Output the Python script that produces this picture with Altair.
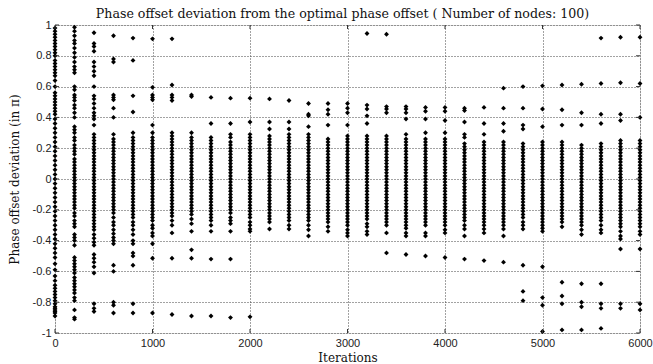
import altair as alt
import pandas as pd

iterations = [0, 200, 400, 600, 800, 1000, 1200, 1400, 1600, 1800, 2000, 2200, 2400, 2600, 2800,
              3000, 3200, 3400, 3600, 3800, 4000, 4200, 4400, 4600, 4800, 5000, 5200, 5400, 5600, 5800, 6000]

c0 = [0.98, 0.96, 0.94, 0.92, 0.90, 0.88, 0.86, 0.84, 0.82, 0.80, 0.77, 0.75, 0.73, 0.71, 0.69, 0.67, 0.64,
      0.60, 0.56, 0.54, 0.52, 0.50, 0.48, 0.46, 0.44, 0.42, 0.39, 0.36, 0.33, 0.30, 0.27, 0.24, 0.21, 0.18,
      0.15, 0.12, 0.09, 0.06, 0.03, 0.00, -0.03, -0.06, -0.09, -0.12, -0.15, -0.18, -0.21, -0.24, -0.27,
      -0.30, -0.33, -0.36, -0.39, -0.42, -0.45, -0.48, -0.51, -0.55, -0.59, -0.63, -0.66, -0.69, -0.71,
      -0.73, -0.75, -0.77, -0.79, -0.81, -0.83, -0.84, -0.85, -0.86, -0.87, -0.89]
c200 = [0.985, 0.96, 0.93, 0.90, 0.88, 0.85, 0.82, 0.79, 0.76, 0.73, 0.71, 0.69, 0.60, 0.58, 0.545, 0.53,
        0.51, 0.48, 0.46, 0.43, 0.40, 0.34, 0.32, 0.30, 0.27, 0.25, 0.22, 0.20, 0.18, 0.16, 0.13, 0.11, 0.09,
        0.07, 0.05, 0.03, 0.01, -0.01, -0.03, -0.05, -0.07, -0.09, -0.11, -0.13, -0.15, -0.17, -0.19, -0.22,
        -0.24, -0.27, -0.29, -0.31, -0.36, -0.38, -0.40, -0.43, -0.51, -0.53, -0.55, -0.57, -0.59, -0.61,
        -0.64, -0.66, -0.68, -0.70, -0.72, -0.74, -0.77, -0.79, -0.85, -0.90, -0.91]
c400 = [0.95, 0.88, 0.86, 0.83, 0.76, 0.73, 0.70, 0.67, 0.60, 0.54, 0.52, 0.49, 0.46, 0.43, 0.41, 0.39, 0.35,
        0.29, 0.27, 0.25, 0.23, 0.21, 0.19, 0.17, 0.15, 0.13, 0.11, 0.09, 0.07, 0.05, 0.03, 0.01, -0.01,
        -0.03, -0.05, -0.07, -0.09, -0.11, -0.13, -0.15, -0.17, -0.19, -0.21, -0.23, -0.25, -0.27, -0.29,
        -0.31, -0.33, -0.36, -0.385, -0.41, -0.43, -0.49, -0.515, -0.54, -0.57, -0.61, -0.81, -0.84, -0.86]
c600 = [0.93, 0.78, 0.76, 0.545, 0.53, 0.515, 0.46, 0.40, 0.29, 0.26, 0.24, 0.22, 0.20, 0.18, 0.16, 0.14,
        0.12, 0.10, 0.08, 0.06, 0.04, 0.02, 0.00, -0.02, -0.04, -0.06, -0.08, -0.10, -0.12, -0.14, -0.16,
        -0.18, -0.20, -0.22, -0.25, -0.28, -0.30, -0.33, -0.355, -0.38, -0.40, -0.42, -0.56, -0.60, -0.80,
        -0.82, -0.87]
c800 = [0.915, 0.77, 0.54, 0.435, 0.30, 0.27, 0.25, 0.23, 0.21, 0.19, 0.17, 0.15, 0.13, 0.11, 0.09, 0.07,
        0.05, 0.03, 0.01, -0.01, -0.03, -0.05, -0.07, -0.09, -0.11, -0.13, -0.15, -0.17, -0.19, -0.21, -0.23,
        -0.25, -0.28, -0.30, -0.33, -0.36, -0.40, -0.42, -0.48, -0.50, -0.56, -0.81, -0.87]
c1000 = [0.91, 0.595, 0.545, 0.53, 0.515, 0.35, 0.30, 0.27, 0.25, 0.23, 0.21, 0.19, 0.17, 0.15, 0.13, 0.11,
         0.09, 0.07, 0.05, 0.03, 0.01, -0.01, -0.03, -0.05, -0.07, -0.09, -0.11, -0.13, -0.15, -0.17, -0.19,
         -0.21, -0.23, -0.25, -0.27, -0.30, -0.32, -0.35, -0.37, -0.42, -0.515, -0.87]
c1200 = [0.91, 0.61, 0.545, 0.53, 0.51, 0.30, 0.28, 0.26, 0.24, 0.22, 0.20, 0.18, 0.16, 0.14, 0.12, 0.10,
         0.08, 0.06, 0.04, 0.02, 0.00, -0.02, -0.04, -0.06, -0.08, -0.10, -0.12, -0.14, -0.16, -0.18, -0.20,
         -0.22, -0.24, -0.27, -0.30, -0.35, -0.515, -0.88]
c1400 = [0.545, 0.535, 0.30, 0.27, 0.25, 0.23, 0.21, 0.19, 0.17, 0.15, 0.13, 0.11, 0.09, 0.07, 0.05, 0.03,
         0.01, -0.01, -0.03, -0.05, -0.07, -0.09, -0.11, -0.13, -0.15, -0.17, -0.19, -0.21, -0.23, -0.26,
         -0.29, -0.34, -0.46, -0.515, -0.89]
c1600 = [0.53, 0.36, 0.27, 0.25, 0.23, 0.21, 0.19, 0.17, 0.15, 0.13, 0.11, 0.09, 0.07, 0.05, 0.03, 0.01,
         -0.01, -0.03, -0.05, -0.07, -0.09, -0.11, -0.13, -0.15, -0.17, -0.19, -0.21, -0.23, -0.25, -0.27,
         -0.30, -0.34, -0.52, -0.89]
c1800 = [0.525, 0.36, 0.29, 0.27, 0.24, 0.22, 0.20, 0.18, 0.16, 0.14, 0.12, 0.10, 0.08, 0.06, 0.04, 0.02,
         0.00, -0.02, -0.04, -0.06, -0.08, -0.10, -0.12, -0.14, -0.16, -0.18, -0.20, -0.22, -0.25, -0.27,
         -0.29, -0.34, -0.52, -0.90]
c2000 = [0.525, 0.37, 0.29, 0.27, 0.25, 0.23, 0.21, 0.19, 0.17, 0.15, 0.13, 0.11, 0.09, 0.07, 0.05, 0.03,
         0.01, -0.01, -0.03, -0.05, -0.07, -0.09, -0.11, -0.13, -0.15, -0.17, -0.19, -0.21, -0.23, -0.25,
         -0.28, -0.30, -0.325, -0.34, -0.895]
c2200 = [0.52, 0.37, 0.325, 0.28, 0.26, 0.24, 0.22, 0.20, 0.18, 0.16, 0.14, 0.12, 0.10, 0.08, 0.06, 0.04,
         0.02, 0.00, -0.02, -0.04, -0.06, -0.08, -0.10, -0.12, -0.14, -0.16, -0.18, -0.20, -0.22, -0.24,
         -0.26, -0.28, -0.325]
c2400 = [0.51, 0.37, 0.325, 0.29, 0.27, 0.25, 0.23, 0.21, 0.19, 0.17, 0.15, 0.13, 0.11, 0.09, 0.07, 0.05,
         0.03, 0.01, -0.01, -0.03, -0.05, -0.07, -0.09, -0.11, -0.13, -0.15, -0.17, -0.19, -0.21, -0.23,
         -0.25, -0.27, -0.30, -0.325]
c2600 = [0.49, 0.42, 0.41, 0.34, 0.29, 0.27, 0.25, 0.23, 0.21, 0.19, 0.17, 0.15, 0.13, 0.11, 0.09, 0.07,
         0.05, 0.03, 0.01, -0.01, -0.03, -0.05, -0.07, -0.09, -0.11, -0.13, -0.15, -0.17, -0.19, -0.21,
         -0.23, -0.25, -0.27, -0.30, -0.33, -0.37]
c2800 = [0.49, 0.45, 0.42, 0.35, 0.26, 0.24, 0.22, 0.20, 0.18, 0.16, 0.14, 0.12, 0.10, 0.08, 0.06, 0.04,
         0.02, 0.00, -0.02, -0.04, -0.06, -0.08, -0.10, -0.12, -0.14, -0.16, -0.18, -0.20, -0.22, -0.24,
         -0.26, -0.28, -0.31, -0.34]
c3000 = [0.49, 0.46, 0.43, 0.35, 0.28, 0.26, 0.24, 0.22, 0.20, 0.18, 0.16, 0.14, 0.12, 0.10, 0.08, 0.06,
         0.04, 0.02, 0.00, -0.02, -0.04, -0.06, -0.08, -0.10, -0.12, -0.14, -0.16, -0.18, -0.20, -0.22,
         -0.24, -0.26, -0.28, -0.30, -0.33, -0.35, -0.37]
c3200 = [0.945, 0.48, 0.455, 0.41, 0.36, 0.28, 0.26, 0.24, 0.22, 0.20, 0.18, 0.16, 0.14, 0.12, 0.10, 0.08,
         0.06, 0.04, 0.02, 0.00, -0.02, -0.04, -0.06, -0.08, -0.10, -0.12, -0.14, -0.16, -0.18, -0.20,
         -0.22, -0.24, -0.26, -0.29, -0.31, -0.34, -0.36]
c3400 = [0.94, 0.47, 0.455, 0.43, 0.28, 0.26, 0.24, 0.22, 0.20, 0.18, 0.16, 0.14, 0.12, 0.10, 0.08, 0.06,
         0.04, 0.02, 0.00, -0.02, -0.04, -0.06, -0.08, -0.10, -0.12, -0.14, -0.16, -0.18, -0.20, -0.22,
         -0.24, -0.26, -0.28, -0.30, -0.35, -0.48]
c3600 = [0.47, 0.455, 0.43, 0.39, 0.29, 0.26, 0.24, 0.22, 0.20, 0.18, 0.16, 0.14, 0.12, 0.10, 0.08, 0.06,
         0.04, 0.02, 0.00, -0.02, -0.04, -0.06, -0.08, -0.10, -0.12, -0.14, -0.16, -0.18, -0.20, -0.22,
         -0.24, -0.26, -0.28, -0.30, -0.32, -0.35, -0.37, -0.49]
c3800 = [0.465, 0.44, 0.39, 0.30, 0.26, 0.24, 0.22, 0.20, 0.18, 0.16, 0.14, 0.12, 0.10, 0.08, 0.06, 0.04,
         0.02, 0.00, -0.02, -0.04, -0.06, -0.08, -0.10, -0.12, -0.14, -0.16, -0.18, -0.20, -0.22, -0.24,
         -0.26, -0.28, -0.30, -0.35, -0.37, -0.50]
c4000 = [0.465, 0.44, 0.38, 0.30, 0.26, 0.24, 0.22, 0.20, 0.18, 0.16, 0.14, 0.12, 0.10, 0.08, 0.06, 0.04,
         0.02, 0.00, -0.02, -0.04, -0.06, -0.08, -0.10, -0.12, -0.14, -0.16, -0.18, -0.20, -0.22, -0.24,
         -0.26, -0.28, -0.30, -0.33, -0.35, -0.51]
c4200 = [0.46, 0.445, 0.37, 0.29, 0.27, 0.23, 0.21, 0.19, 0.17, 0.15, 0.13, 0.11, 0.09, 0.07, 0.05, 0.03,
         0.01, -0.01, -0.03, -0.05, -0.07, -0.09, -0.11, -0.13, -0.15, -0.17, -0.19, -0.21, -0.23, -0.25,
         -0.27, -0.30, -0.325, -0.37, -0.52]
c4400 = [0.465, 0.36, 0.29, 0.24, 0.22, 0.20, 0.18, 0.16, 0.14, 0.12, 0.10, 0.08, 0.06, 0.04, 0.02, 0.00,
         -0.02, -0.04, -0.06, -0.08, -0.10, -0.12, -0.14, -0.16, -0.18, -0.20, -0.22, -0.24, -0.26, -0.28,
         -0.30, -0.325, -0.35, -0.53]
c4600 = [0.59, 0.46, 0.36, 0.31, 0.24, 0.22, 0.20, 0.18, 0.16, 0.14, 0.12, 0.10, 0.08, 0.06, 0.04, 0.02,
         0.00, -0.02, -0.04, -0.06, -0.08, -0.10, -0.12, -0.14, -0.16, -0.18, -0.20, -0.22, -0.24, -0.26,
         -0.28, -0.30, -0.325, -0.37, -0.54]
c4800 = [0.60, 0.46, 0.35, 0.325, 0.23, 0.21, 0.19, 0.17, 0.15, 0.13, 0.11, 0.09, 0.07, 0.05, 0.03, 0.01,
         -0.01, -0.03, -0.05, -0.07, -0.09, -0.11, -0.13, -0.15, -0.17, -0.19, -0.21, -0.23, -0.25, -0.28,
         -0.30, -0.325, -0.56, -0.73, -0.79]
c5000 = [0.605, 0.455, 0.34, 0.24, 0.22, 0.20, 0.18, 0.16, 0.14, 0.12, 0.10, 0.08, 0.06, 0.04, 0.02, 0.00,
         -0.02, -0.04, -0.06, -0.08, -0.10, -0.12, -0.14, -0.16, -0.18, -0.20, -0.22, -0.24, -0.26, -0.28,
         -0.30, -0.32, -0.34, -0.57, -0.77, -0.82, -0.99]
c5200 = [0.61, 0.45, 0.35, 0.24, 0.22, 0.20, 0.18, 0.16, 0.14, 0.12, 0.10, 0.08, 0.06, 0.04, 0.02, 0.00,
         -0.02, -0.04, -0.06, -0.08, -0.10, -0.12, -0.14, -0.16, -0.18, -0.20, -0.22, -0.24, -0.26, -0.28,
         -0.31, -0.67, -0.76, -0.81, -0.98]
c5400 = [0.615, 0.43, 0.35, 0.22, 0.20, 0.18, 0.16, 0.14, 0.12, 0.10, 0.08, 0.06, 0.04, 0.02, 0.00, -0.02,
         -0.04, -0.06, -0.08, -0.10, -0.12, -0.14, -0.16, -0.18, -0.20, -0.22, -0.24, -0.26, -0.28, -0.30,
         -0.33, -0.36, -0.68, -0.80, -0.83, -0.98]
c5600 = [0.915, 0.62, 0.42, 0.36, 0.23, 0.21, 0.19, 0.17, 0.15, 0.13, 0.11, 0.09, 0.07, 0.05, 0.03, 0.01,
         -0.01, -0.03, -0.05, -0.07, -0.09, -0.11, -0.13, -0.15, -0.17, -0.19, -0.21, -0.23, -0.25, -0.27,
         -0.30, -0.33, -0.35, -0.68, -0.81, -0.84, -0.97]
c5800 = [0.92, 0.625, 0.42, 0.38, 0.25, 0.23, 0.21, 0.19, 0.17, 0.15, 0.13, 0.11, 0.09, 0.07, 0.05, 0.03,
         0.01, -0.01, -0.03, -0.05, -0.07, -0.09, -0.11, -0.13, -0.15, -0.17, -0.19, -0.21, -0.23, -0.25,
         -0.27, -0.29, -0.31, -0.34, -0.37, -0.39, -0.455, -0.81, -0.84]
c6000 = [0.92, 0.62, 0.40, 0.25, 0.23, 0.21, 0.19, 0.17, 0.15, 0.13, 0.11, 0.09, 0.07, 0.05, 0.03, 0.01,
         -0.01, -0.03, -0.05, -0.07, -0.09, -0.11, -0.13, -0.15, -0.17, -0.19, -0.21, -0.23, -0.25, -0.27,
         -0.29, -0.31, -0.34, -0.36, -0.455, -0.81, -0.85]

columns = [c0, c200, c400, c600, c800, c1000, c1200, c1400, c1600, c1800, c2000, c2200, c2400, c2600,
           c2800, c3000, c3200, c3400, c3600, c3800, c4000, c4200, c4400, c4600, c4800, c5000, c5200,
           c5400, c5600, c5800, c6000]

x_ticks = [0, 1000, 2000, 3000, 4000, 5000, 6000]
y_ticks = [-1, -0.8, -0.6, -0.4, -0.2, 0, 0.2, 0.4, 0.6, 0.8, 1]

rows = []
for it, vals in zip(iterations, columns):
    for v in vals:
        rows.append({"iteration": it, "deviation": v})
df = pd.DataFrame(rows)

W, H = 585, 308
TICK = 4
xs = alt.Scale(domain=[0, 6000], nice=False, zero=False)
ys = alt.Scale(domain=[-1, 1], nice=False, zero=False)

label_font = "Liberation Sans"
serif = "DejaVu Serif"
X_TITLE = "Iterations"
Y_TITLE = "Phase offset deviation (in \u03c0)"

x_axis = alt.Axis(
    values=x_ticks, format="d", title=X_TITLE, grid=True, gridDash=[1, 2],
    gridColor="#444", gridOpacity=1, ticks=False, domain=False, labelFlush=False,
    labelFont=label_font, labelFontSize=11, labelColor="#222", labelPadding=4,
    titleFont=serif, titleFontSize=12, titleFontWeight="normal", titleColor="#111",
    titlePadding=4)
y_axis = alt.Axis(
    values=y_ticks, labelExpr="replace(format(datum.value, '.1~f'), '\u2212', '-')",
    title=Y_TITLE, grid=True, gridDash=[1, 2], labelFlush=False,
    gridColor="#444", gridOpacity=1, ticks=False, domain=False,
    labelFont=label_font, labelFontSize=11, labelColor="#222", labelPadding=4,
    titleFont=serif, titleFontSize=12, titleFontWeight="normal", titleColor="#111",
    titlePadding=11)

points = alt.Chart(df).mark_point(
    shape="diamond", filled=True, size=24, color="black", opacity=1, clip=False
).encode(
    x=alt.X("iteration:Q", scale=xs, axis=x_axis, title=X_TITLE),
    y=alt.Y("deviation:Q", scale=ys, axis=y_axis, title=Y_TITLE),
)

xt = pd.DataFrame({"t": x_ticks})
yt = pd.DataFrame({"t": y_ticks})

tick_bottom = alt.Chart(xt).mark_rule(color="#333", strokeWidth=1).encode(
    x=alt.X("t:Q", scale=xs, axis=x_axis, title=X_TITLE), y=alt.value(H), y2=alt.value(H - TICK))
tick_top = alt.Chart(xt).mark_rule(color="#333", strokeWidth=1).encode(
    x=alt.X("t:Q", scale=xs, axis=x_axis, title=X_TITLE), y=alt.value(0), y2=alt.value(TICK))
tick_left = alt.Chart(yt).mark_rule(color="#333", strokeWidth=1).encode(
    y=alt.Y("t:Q", scale=ys, axis=y_axis, title=Y_TITLE), x=alt.value(0), x2=alt.value(TICK))
tick_right = alt.Chart(yt).mark_rule(color="#333", strokeWidth=1).encode(
    y=alt.Y("t:Q", scale=ys, axis=y_axis, title=Y_TITLE), x=alt.value(W), x2=alt.value(W - TICK))

chart = alt.layer(points, tick_bottom, tick_top, tick_left, tick_right).properties(
    width=W, height=H,
    title=alt.TitleParams(
        "Phase offset deviation from the optimal phase offset ( Number of nodes: 100)",
        font=serif, fontSize=12.6, fontWeight="normal", color="#111", anchor="middle",
        frame="group", offset=-2, dx=-5),
    padding={"left": 55, "top": 25, "right": 13, "bottom": 31},
    autosize="none",
).configure_view(stroke="#555", strokeWidth=1).configure(background="white")

chart.save("out.html", embed_options={"renderer": "svg", "actions": False})
